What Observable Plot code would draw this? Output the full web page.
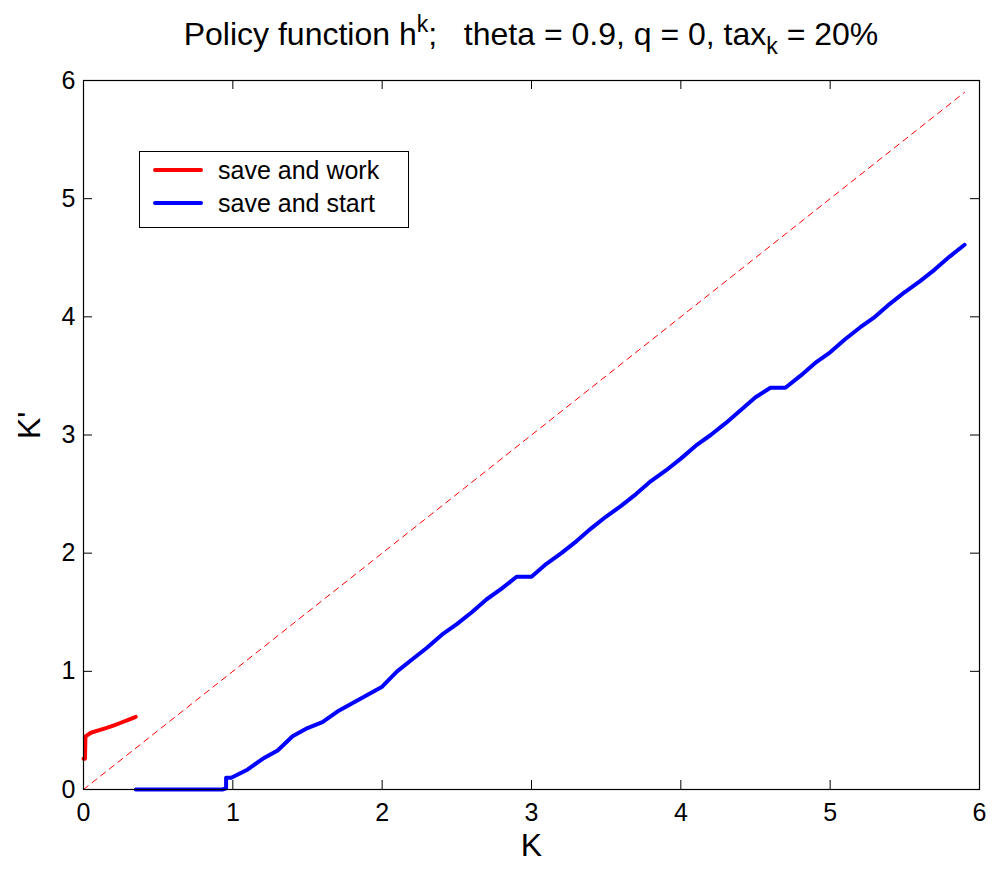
<!DOCTYPE html>
<html>
<head>
<meta charset="utf-8">
<script src="https://cdn.jsdelivr.net/npm/d3@7"></script>
<script src="https://cdn.jsdelivr.net/npm/@observablehq/plot@0.6"></script>
<style>
  body { margin: 0; background: #fff; font-family: "Liberation Sans", Arial, sans-serif; }
  #wrap { position: relative; width: 993px; height: 869px; overflow: hidden; }
  #title { height: 60px; box-sizing: border-box; padding: 18px 14px 0 83px; text-align: center;
           font-size: 32px; line-height: 1; white-space: pre; color: #000; }
  #title .sup { position: relative; top: -0.55em; font-size: 0.72em; }
  #title .sub { position: relative; top: 0.4em; font-size: 0.72em; }
  #legend { position: absolute; left: 139px; top: 151px; width: 268px; height: 75px;
            border: 1px solid #000; background: #fff; font-size: 25px; color: #000; }
  #legend .row { position: absolute; left: 0; height: 30px; }
  #legend .sw { position: absolute; left: 13px; width: 50px; height: 4px; border-radius: 2px; }
  #legend .lab { position: absolute; left: 78px; white-space: nowrap; line-height: 30px; }
</style>
</head>
<body>
<div id="wrap">
  <div id="title">Policy function h<span class="sup">k</span>;   theta = 0.9, q = 0, tax<span class="sub">k</span> = 20%</div>
  <div id="chart"></div>
  <div id="legend"></div>
</div>
<script>
// ---- data ----
const workK  = [0, 0.01, 0.013, 0.05, 0.1, 0.15, 0.2, 0.25, 0.3, 0.35];
const workKp = [0.26, 0.26, 0.45, 0.48, 0.5, 0.52, 0.54, 0.565, 0.59, 0.615];

const startK  = [0.35, 0.93, 0.955, 0.955, 0.99, 1.1, 1.2, 1.3, 1.4, 1.5, 1.6, 1.7, 1.8, 1.9, 2.0,
                 2.1, 2.2, 2.3, 2.4, 2.5, 2.6, 2.7, 2.8, 2.9, 3.0, 3.1, 3.2, 3.3, 3.4, 3.5, 3.6,
                 3.7, 3.8, 3.9, 4.0, 4.1, 4.2, 4.3, 4.4, 4.5, 4.6, 4.7, 4.8, 4.9, 5.0, 5.1, 5.2,
                 5.3, 5.4, 5.5, 5.6, 5.7, 5.8, 5.9];
const startKp = [0, 0, 0.01, 0.1, 0.1, 0.17, 0.26, 0.33, 0.45, 0.52, 0.57, 0.66, 0.73, 0.8, 0.87,
                 1.0, 1.1, 1.2, 1.31, 1.4, 1.5, 1.61, 1.7, 1.8, 1.8, 1.91, 2.0, 2.1, 2.21, 2.31, 2.4,
                 2.5, 2.61, 2.7, 2.8, 2.91, 3.0, 3.1, 3.21, 3.32, 3.4, 3.4, 3.5, 3.61, 3.7, 3.81, 3.91,
                 4.0, 4.11, 4.21, 4.3, 4.4, 4.51, 4.61];

const diagK = [0, 5.9];           // 45-degree reference line K' = K
const xTicks = [0, 1, 2, 3, 4, 5, 6];
const yTicks = [0, 1, 2, 3, 4, 5, 6];
const seriesNames = ["save and work", "save and start"];
const seriesColors = ["#ff0000", "#0000ff"];

// ---- build tables ----
const work  = workK.map((k, i) => ({k, kp: workKp[i]}));
const start = startK.map((k, i) => ({k, kp: startKp[i]}));

// ---- layout ----
const W = 993, H = 809, mT = 20, mB = 80, mL = 83, mR = 14;
const plotW = W - mL - mR, plotH = H - mT - mB;
const tickLen = 9;

const chart = Plot.plot({
  width: W, height: H,
  marginTop: mT, marginBottom: mB, marginLeft: mL, marginRight: mR,
  x: {domain: [0, 6]},
  y: {domain: [0, 6]},
  style: {fontFamily: "'Liberation Sans', Arial, sans-serif", fontSize: "25px", color: "#000", background: "#fff"},
  marks: [
    Plot.line(diagK, {x: d => d, y: d => d, stroke: seriesColors[0], strokeWidth: 1, strokeDasharray: "6,5"}),
    Plot.line(work, {x: "k", y: "kp", stroke: seriesColors[0], strokeWidth: 4, strokeLinejoin: "round", strokeLinecap: "round"}),
    Plot.line(start, {x: "k", y: "kp", stroke: seriesColors[1], strokeWidth: 4, strokeLinejoin: "round", strokeLinecap: "round"}),
    // inward ticks on all four sides
    Plot.ruleX(xTicks, {x: d => d, insetTop: plotH - tickLen, stroke: "#000"}),
    Plot.ruleX(xTicks, {x: d => d, insetBottom: plotH - tickLen, stroke: "#000"}),
    Plot.ruleY(yTicks, {y: d => d, insetRight: plotW - tickLen, stroke: "#000"}),
    Plot.ruleY(yTicks, {y: d => d, insetLeft: plotW - tickLen, stroke: "#000"}),
    Plot.frame({stroke: "#000", strokeWidth: 1.2}),
    Plot.axisX({ticks: xTicks, tickSize: 0, tickPadding: 14, label: null, tickFormat: d => String(d)}),
    Plot.axisY({ticks: yTicks, tickSize: 0, tickPadding: 8, label: null, tickFormat: d => String(d)}),
    Plot.text(["K"], {text: d => d, frameAnchor: "bottom", dy: 66, fontSize: 32}),
    Plot.text(["K'"], {text: d => d, frameAnchor: "left", dx: -54, dy: 4, rotate: -90, fontSize: 32})
  ]
});
document.getElementById("chart").appendChild(chart);

// ---- legend ----
const legend = document.getElementById("legend");
seriesNames.forEach((name, i) => {
  const row = document.createElement("div");
  row.className = "row";
  row.style.top = (3 + i * 33) + "px";
  row.style.width = "100%";
  const sw = document.createElement("div");
  sw.className = "sw";
  sw.style.background = seriesColors[i];
  sw.style.top = "13px";
  const lab = document.createElement("div");
  lab.className = "lab";
  lab.textContent = name;
  lab.style.top = "0px";
  row.appendChild(sw);
  row.appendChild(lab);
  legend.appendChild(row);
});
</script>
</body>
</html>
